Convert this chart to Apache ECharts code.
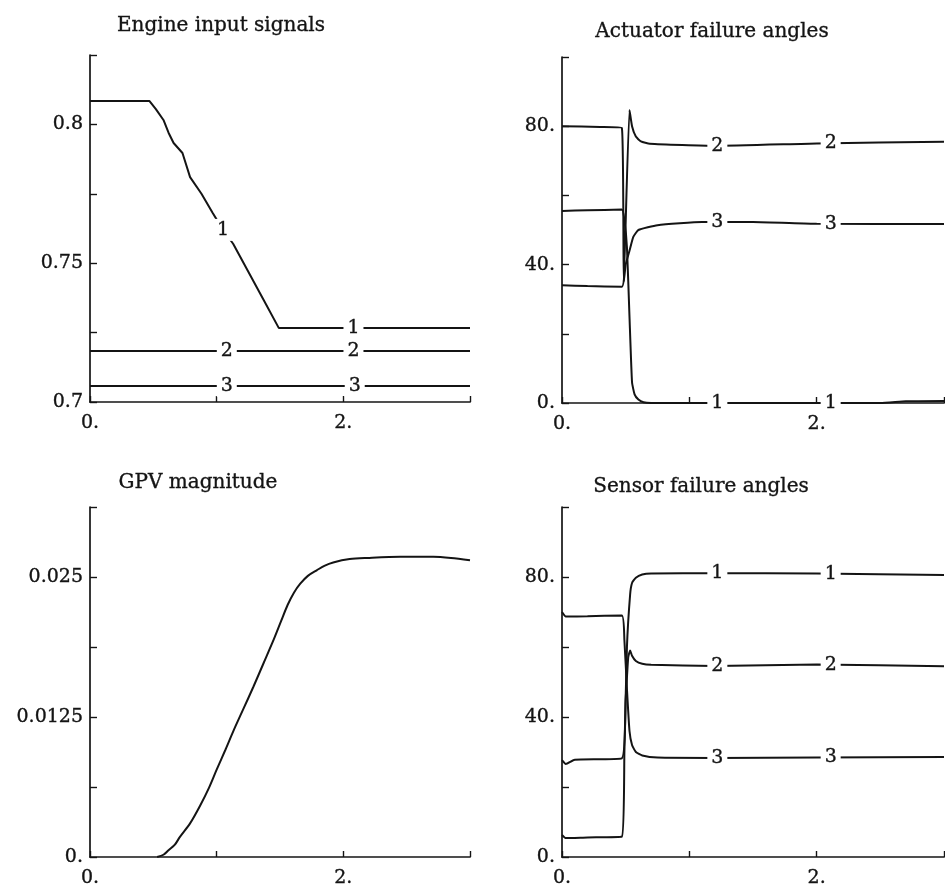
<!DOCTYPE html>
<html>
<head>
<meta charset="utf-8">
<script src="https://cdn.jsdelivr.net/npm/echarts@6/dist/echarts.min.js"></script>
<style>
  html, body { margin: 0; padding: 0; background: #fff; }
  #chart { width: 945px; height: 886px; }
</style>
</head>
<body>
<div id="chart"></div>
<script>
// time points [t, value]
const engine1 = [[0, 0.8084], [0.47, 0.8084], [0.52, 0.8055], [0.58, 0.8016], [0.62, 0.797], [0.66, 0.7933],
  [0.73, 0.7897], [0.79, 0.781], [0.88, 0.775], [0.97, 0.768], [1.05, 0.762], [1.13, 0.757],
  [1.25, 0.7469], [1.37, 0.7368], [1.49, 0.7267], [2.0, 0.7267], [3.0, 0.7267]]
const engine2 = [[0, 0.7184], [3, 0.7184]]
const engine3 = [[0, 0.7058], [3, 0.7058]]

const actuator1 = [[0, 55.5], [0.2, 55.7], [0.47, 55.9], [0.49, 53], [0.51, 45], [0.53, 25], [0.55, 6],
  [0.57, 2.5], [0.6, 1], [0.64, 0.2], [0.7, 0], [2.5, 0], [2.7, 0.5], [3, 0.6]]
const actuator2 = [[0, 80], [0.3, 79.8], [0.47, 79.5], [0.485, 35], [0.53, 84.7], [0.55, 80], [0.58, 77],
  [0.62, 75.6], [0.69, 74.9], [1.2, 74.3], [2, 75], [3, 75.5]]
const actuator3 = [[0, 34], [0.2, 33.8], [0.47, 33.6], [0.5, 40], [0.53, 44], [0.56, 48], [0.6, 50],
  [0.75, 51.4], [1.1, 52.3], [1.5, 52.3], [2, 51.8], [3, 51.7]]

const gpv = [[0.53, 0], [0.58, 0.0002], [0.62, 0.0006], [0.67, 0.0011], [0.71, 0.0018], [0.79, 0.003],
  [0.87, 0.0046], [0.94, 0.0062], [1.0, 0.0078], [1.07, 0.0096], [1.13, 0.0112], [1.21, 0.0132],
  [1.29, 0.0152], [1.37, 0.0173], [1.45, 0.0194], [1.51, 0.0211], [1.56, 0.0225], [1.61, 0.0236],
  [1.66, 0.0244], [1.72, 0.0251], [1.79, 0.0256], [1.85, 0.026], [1.92, 0.0263], [2.05, 0.0266],
  [2.19, 0.0267], [2.45, 0.0268], [2.71, 0.0268], [2.85, 0.0267], [3.0, 0.0265]]

const sensor1 = [[0, 6.3], [0.03, 5.4], [0.2, 5.6], [0.47, 5.8], [0.49, 30], [0.51, 60], [0.535, 75],
  [0.55, 78.3], [0.58, 79.8], [0.63, 80.7], [0.7, 81], [1.2, 81.1], [2, 81], [3, 80.6]]
const sensor2 = [[0, 27.7], [0.03, 26.6], [0.1, 27.8], [0.47, 28.2], [0.5, 45], [0.52, 57], [0.535, 59],
  [0.55, 57.5], [0.58, 56], [0.63, 55.2], [0.7, 54.9], [1.2, 54.6], [2, 55], [3, 54.5]]
const sensor3 = [[0, 70], [0.03, 68.7], [0.2, 68.8], [0.47, 69], [0.49, 62], [0.51, 48], [0.53, 36],
  [0.55, 32], [0.58, 30], [0.63, 29], [0.75, 28.4], [1.2, 28.3], [2, 28.4], [3, 28.6]]

// where the curve numbers sit (t values)
const engineLabelT = [[1.05, 2.08], [1.08, 2.08], [1.08, 2.09]]
const failLabelT = [1.22, 2.11]

const titles = ['Engine input signals', 'Actuator failure angles', 'GPV magnitude', 'Sensor failure angles']
const xTickLabels = { 0: '0.', 2: '2.' }
const engineTickLabels = { '0.7': '0.7', '0.75': '0.75', '0.8': '0.8' }
const angleTickLabels = { '0': '0.', '40': '40.', '80': '80.' }
const gpvTickLabels = { '0': '0.', '0.0125': '0.0125', '0.025': '0.025' }

const FONT = 'DejaVu Serif'
const INK = '#141414'

const chart = echarts.init(document.getElementById('chart'))

function valueAt (pts, t) {
  for (let i = 1; i < pts.length; i++) {
    if (t <= pts[i][0]) {
      const a = pts[i - 1], b = pts[i]
      return a[1] + (b[1] - a[1]) * (t - a[0]) / (b[0] - a[0])
    }
  }
  return pts[pts.length - 1][1]
}

function pickLabel (map) {
  return function (v) {
    const key = String(parseFloat(v.toFixed(5)))
    return map[key] !== undefined ? map[key] : ''
  }
}

// slightly heavier text, the print is quite dark
const inkText = { color: INK, fontFamily: FONT, textBorderColor: INK, textBorderWidth: 0.35 }

function xAxisFor (gi) {
  return {
    gridIndex: gi,
    type: 'value',
    min: 0,
    max: 3,
    interval: 1,
    splitLine: { show: false },
    axisLine: { lineStyle: { color: INK, width: 1.7 } },
    axisTick: { inside: true, length: 6, lineStyle: { color: INK, width: 1.4 } },
    axisLabel: Object.assign({
      margin: 12,
      fontSize: 19,
      formatter: pickLabel(xTickLabels)
    }, inkText)
  }
}

function yAxisFor (gi, min, max, interval, labels) {
  return {
    gridIndex: gi,
    type: 'value',
    min: min,
    max: max,
    interval: interval,
    splitLine: { show: false },
    axisLine: { show: true, lineStyle: { color: INK, width: 1.7 } },
    axisTick: { show: true, inside: true, length: 7, lineStyle: { color: INK, width: 1.4 } },
    axisLabel: Object.assign({
      margin: 7,
      fontSize: 19,
      formatter: pickLabel(labels)
    }, inkText)
  }
}

function curve (gi, pts, name, labelTs, smooth) {
  return {
    type: 'line',
    xAxisIndex: gi,
    yAxisIndex: gi,
    data: pts,
    showSymbol: false,
    smooth: smooth,
    lineStyle: { color: INK, width: 2 },
    silent: true,
    markPoint: labelTs ? {
      symbol: 'rect',
      symbolSize: [20, 22],
      itemStyle: { color: '#fff' },
      label: Object.assign({
        show: true,
        position: 'inside',
        fontSize: 19,
        formatter: '{b}'
      }, inkText),
      data: labelTs.map(t => ({ name: name, coord: [t, valueAt(pts, t)] }))
    } : undefined
  }
}

const option = {
  backgroundColor: '#fff',
  animation: false,
  title: [
    { text: titles[0], left: 221, top: 16 },
    { text: titles[1], left: 712, top: 22 },
    { text: titles[2], left: 198, top: 473 },
    { text: titles[3], left: 701, top: 477 }
  ].map(t => Object.assign(t, {
    textAlign: 'center',
    padding: 0,
    textStyle: Object.assign({ fontWeight: 'normal', fontSize: 20 }, inkText)
  })),
  grid: [
    { left: 90, top: 55, width: 380, height: 347 },
    { left: 562, top: 57, width: 382, height: 346 },
    { left: 90, top: 507, width: 380, height: 350 },
    { left: 562, top: 507, width: 382, height: 350 }
  ].map(g => Object.assign(g, { containLabel: false, outerBoundsMode: 'none', show: false })),
  xAxis: [xAxisFor(0), xAxisFor(1), xAxisFor(2), xAxisFor(3)],
  yAxis: [
    yAxisFor(0, 0.7, 0.825, 0.025, engineTickLabels),
    yAxisFor(1, 0, 100, 20, angleTickLabels),
    yAxisFor(2, 0, 0.03125, 0.00625, gpvTickLabels),
    yAxisFor(3, 0, 100, 20, angleTickLabels)
  ],
  series: [
    curve(0, engine1, '1', engineLabelT[0], false),
    curve(0, engine2, '2', engineLabelT[1], false),
    curve(0, engine3, '3', engineLabelT[2], false),
    curve(1, actuator1, '1', failLabelT, 0.15),
    curve(1, actuator2, '2', failLabelT, 0.15),
    curve(1, actuator3, '3', failLabelT, 0.15),
    curve(2, gpv, '', null, 0.3),
    curve(3, sensor1, '1', failLabelT, 0.15),
    curve(3, sensor2, '2', failLabelT, 0.15),
    curve(3, sensor3, '3', failLabelT, 0.15)
  ]
}

chart.setOption(option)
</script>
</body>
</html>
